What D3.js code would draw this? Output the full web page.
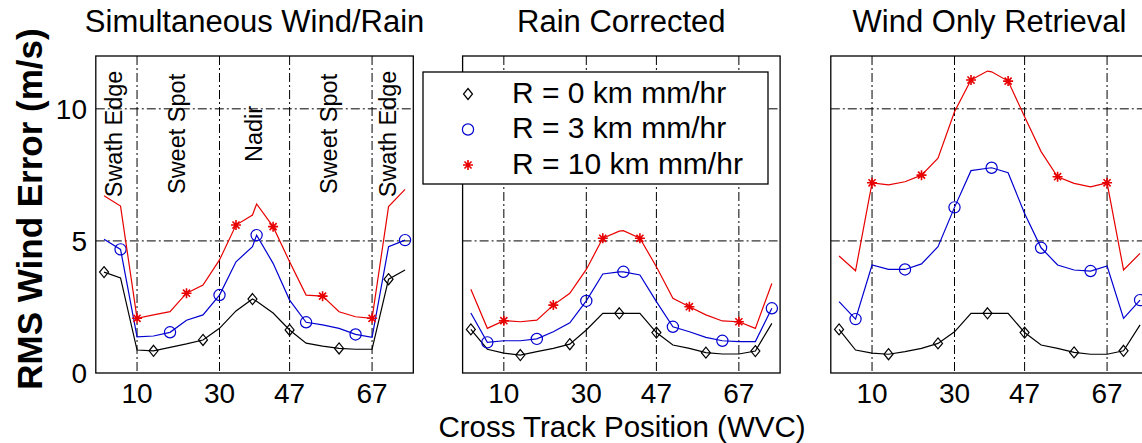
<!DOCTYPE html>
<html>
<head>
<meta charset="utf-8">
<script src="https://cdn.jsdelivr.net/npm/d3@7"></script>
<style>
  body { margin: 0; background: #fff; }
  svg { display: block; }
  text { font-family: "Liberation Sans", Arial, sans-serif; fill: #000; }
</style>
</head>
<body>
<svg id="chart" width="1142" height="443"></svg>
<script>
// wind vector cell positions where the curves are sampled
const wvc = [2, 6, 10, 14, 18, 22, 26, 30, 34, 38, 39, 43, 47, 51, 55, 59, 63, 67, 71, 75];
const xTicks = [10, 30, 47, 67];
const yTicks = [0, 5, 10];
const panelTitles = ["Simultaneous Wind/Rain", "Rain Corrected", "Wind Only Retrieval"];
const seriesNames = ["R = 0 km mm/hr", "R = 3 km mm/hr", "R = 10 km mm/hr"];
const seriesColors = ["#000000", "#0000d0", "#e80000"];
const markerTypes = ["diamond", "circle", "star"];

// Simultaneous Wind/Rain
const simR0 = [3.82, 3.6, 0.87, 0.84, 0.97, 1.1, 1.25, 1.69, 2.35, 2.8, 2.72, 2.27, 1.63, 1.13, 1.02, 0.93, 0.9, 0.9, 3.55, 3.9];
const simR3 = [5.06, 4.68, 1.37, 1.4, 1.54, 2.0, 2.2, 2.95, 4.21, 4.78, 5.22, 4.15, 2.76, 1.92, 1.82, 1.69, 1.46, 1.35, 4.78, 5.03];
const simR10 = [6.71, 6.32, 2.07, 2.2, 2.32, 3.02, 3.33, 4.28, 5.6, 5.98, 6.4, 5.54, 4.21, 2.95, 2.91, 2.32, 2.13, 2.07, 6.3, 6.95];

// Rain Corrected
const corR0 = [1.65, 0.9, 0.75, 0.68, 0.81, 0.93, 1.09, 1.63, 2.26, 2.26, 2.26, 2.26, 1.53, 1.06, 0.93, 0.77, 0.72, 0.72, 0.83, 1.88];
const corR3 = [2.27, 1.16, 1.22, 1.22, 1.29, 1.56, 1.9, 2.73, 3.75, 3.83, 3.83, 3.71, 2.7, 1.75, 1.56, 1.35, 1.22, 1.19, 1.19, 2.45];
const corR10 = [3.17, 1.69, 1.98, 1.94, 2.0, 2.57, 3.02, 3.92, 5.1, 5.37, 5.39, 5.1, 4.02, 2.83, 2.51, 2.2, 1.97, 1.94, 1.69, 3.39];

// Wind Only Retrieval
const wndR0 = [1.65, 0.87, 0.75, 0.71, 0.81, 0.93, 1.12, 1.56, 2.26, 2.26, 2.26, 2.26, 1.53, 1.06, 0.93, 0.78, 0.71, 0.71, 0.84, 1.82];
const wndR3 = [2.7, 2.04, 4.09, 3.92, 3.92, 4.13, 4.78, 6.27, 7.66, 7.75, 7.77, 7.58, 6.04, 4.74, 4.09, 3.9, 3.86, 4.05, 2.07, 2.76];
const wndR10 = [4.43, 3.87, 7.2, 7.12, 7.24, 7.49, 8.13, 9.89, 11.09, 11.43, 11.4, 11.05, 9.7, 8.38, 7.43, 7.18, 7.05, 7.2, 3.9, 4.53];

// swath region notes on the first panel
const regionLabels = ["Swath Edge", "Sweet Spot", "Nadir", "Sweet Spot", "Swath Edge"];
const regionX = [6.4, 21.6, 40.2, 58.5, 72.8];
const regionY = 9.05;

const panels = [
  [simR0, simR3, simR10],
  [corR0, corR3, corR10],
  [wndR0, wndR3, wndR10]
];

const svg = d3.select("#chart");
const panelLeft = [95.8, 462.6, 830.8];
const panelW = 317.5;
const plotTop = 56, plotBottom = 373;

const y = d3.scaleLinear().domain([0, 12]).range([plotBottom, plotTop]);

function drawMarker(g, type, cx, cy, color) {
  if (type === "diamond") {
    g.append("path")
      .attr("d", `M${cx},${cy - 5.5}L${cx + 4.5},${cy}L${cx},${cy + 5.5}L${cx - 4.5},${cy}Z`)
      .attr("fill", "none").attr("stroke", color).attr("stroke-width", 1.2);
  } else if (type === "circle") {
    g.append("circle").attr("cx", cx).attr("cy", cy).attr("r", 5.6)
      .attr("fill", "none").attr("stroke", color).attr("stroke-width", 1.2);
  } else {
    const r = 5;
    const d = [0, 45, 90, 135].map(a => {
      const t = a * Math.PI / 180;
      return `M${cx - r * Math.cos(t)},${cy - r * Math.sin(t)}L${cx + r * Math.cos(t)},${cy + r * Math.sin(t)}`;
    }).join("");
    g.append("path").attr("d", d).attr("stroke", color).attr("stroke-width", 1.6);
  }
}

panels.forEach((series, p) => {
  const x = d3.scaleLinear().domain([0, 77]).range([panelLeft[p], panelLeft[p] + panelW]);
  const g = svg.append("g");

  // grid
  g.selectAll(".vgrid").data(xTicks).join("line")
    .attr("x1", d => x(d)).attr("x2", d => x(d))
    .attr("y1", plotTop).attr("y2", plotBottom)
    .attr("stroke", "#000").attr("stroke-width", 1).attr("stroke-dasharray", "9,3,2,3");
  g.selectAll(".hgrid").data(yTicks.filter(d => d > 0)).join("line")
    .attr("x1", x(0)).attr("x2", x(77))
    .attr("y1", d => y(d)).attr("y2", d => y(d))
    .attr("stroke", "#000").attr("stroke-width", 1).attr("stroke-dasharray", "9,3,2,3");

  // box
  g.append("rect")
    .attr("x", x(0)).attr("y", plotTop)
    .attr("width", panelW).attr("height", plotBottom - plotTop)
    .attr("fill", "none").attr("stroke", "#000").attr("stroke-width", 1.3);

  // x tick labels
  g.selectAll(".xt").data(xTicks).join("text")
    .attr("x", d => x(d)).attr("y", 403)
    .attr("text-anchor", "middle").attr("font-size", 28)
    .text(d => d);

  // title
  g.append("text")
    .attr("x", x(38.5)).attr("y", 32)
    .attr("text-anchor", "middle").attr("font-size", 31)
    .text(panelTitles[p]);

  if (p === 0) {
    g.selectAll(".reg").data(regionLabels).join("text")
      .attr("transform", (d, i) => `translate(${x(regionX[i])},${y(regionY)}) rotate(-90)`)
      .attr("text-anchor", "middle").attr("font-size", 23.5)
      .text(d => d);
  }

  // series lines and markers
  const line = d3.line().x((d, i) => x(wvc[i])).y(d => y(d));
  series.forEach((vals, s) => {
    g.append("path").datum(vals)
      .attr("d", line)
      .attr("fill", "none").attr("stroke", seriesColors[s]).attr("stroke-width", 1.2);
    vals.forEach((v, i) => {
      if (i % 3 === s) drawMarker(g, markerTypes[s], x(wvc[i]), y(v), seriesColors[s]);
    });
  });
});

// y axis tick labels (first panel only)
svg.selectAll(".yt").data(yTicks).join("text")
  .attr("x", 87).attr("y", d => y(d))
  .attr("dy", "0.36em")
  .attr("text-anchor", "end").attr("font-size", 28)
  .text(d => d);

// axis titles
svg.append("text")
  .attr("transform", "translate(42,209) rotate(-90)")
  .attr("text-anchor", "middle").attr("font-size", 35).attr("font-weight", "bold")
  .text("RMS Wind Error (m/s)");

svg.append("text")
  .attr("x", 622).attr("y", 437)
  .attr("text-anchor", "middle").attr("font-size", 29.5)
  .text("Cross Track Position (WVC)");

// legend in the middle panel
const leg = svg.append("g");
leg.append("rect")
  .attr("x", 423).attr("y", 72).attr("width", 345).attr("height", 112)
  .attr("fill", "#fff").attr("stroke", "#000").attr("stroke-width", 1.3);
seriesNames.forEach((name, s) => {
  const cy = 94 + s * 35.5;
  drawMarker(leg, markerTypes[s], 468, cy, seriesColors[s]);
  leg.append("text")
    .attr("x", 512).attr("y", cy + 8.5)
    .attr("font-size", 30)
    .text(name);
});
</script>
</body>
</html>
